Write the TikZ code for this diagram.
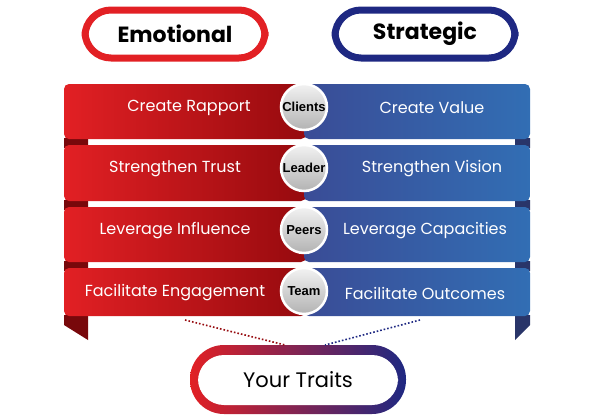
\documentclass[tikz,border=0pt]{standalone}
\usepackage{fontspec}
\setmainfont{Poppins}
\newfontfamily\boldsans{Liberation Sans}
\usetikzlibrary{positioning,shadings}
\definecolor{redA}{RGB}{226,32,36}
\definecolor{redB}{RGB}{150,10,14}
\definecolor{blueA}{RGB}{58,76,150}
\definecolor{blueB}{RGB}{50,110,180}
\definecolor{navy}{RGB}{30,40,130}
\tikzset{
  redband/.style={left color=redA, right color=redB, draw=none, rounded corners=5pt},
  blueband/.style={left color=blueA, right color=blueB, draw=none, rounded corners=5pt},
  bandtext/.style={text=white, font=\fontsize{16}{17}\selectfont},
  hub/.style={circle, minimum size=46pt, inner sep=0pt, draw=white, line width=2.5pt,
              top color=gray!10, bottom color=gray!60, font=\boldsans\bfseries\fontsize{13}{14}\selectfont},
  pill/.style={rounded corners=26pt, line width=7pt, fill=white, minimum width=180pt, minimum height=48pt,
               font=\bfseries\fontsize{22}{24}\selectfont},
}
\begin{document}
\begin{tikzpicture}[x=1pt,y=-1pt]
\useasboundingbox (0,0) rectangle (600,418);

% top labels
\node[pill, draw=redA] (emo) at (175,34) {Emotional};
\node[pill, draw=navy] (strat) at (425,34) {Strategic};

% bands
\foreach \yt/\yb/\tl in {82/143/153, 143/205/215, 205/266/276, 266/320/340}{
  \fill[redB!80!black] (64,\yb-5) -- (88,\yb-5) -- (88,\tl) -- (64,\yb+5) -- cycle;
  \fill[blueA!70!black] (530,\yb-5) -- (515,\yb-5) -- (515,\tl) -- (530,\yb+5) -- cycle;
  \path[redband] (64,\yt+2) rectangle (306,\yb-4);
  \path[blueband] (304,\yt+2) rectangle (530,\yb-4);
}

\node[bandtext] (l1) at (189,108) {Create Rapport};
\node[bandtext] (l2) at (175,169) {Strengthen Trust};
\node[bandtext] (l3) at (175,231) {Leverage Influence};
\node[bandtext] (l4) at (175,293) {Facilitate Engagement};
\node[bandtext] (r1) at (432,108) {Create Value};
\node[bandtext] (r2) at (432,169) {Strengthen Vision};
\node[bandtext] (r3) at (425,231) {Leverage Capacities};
\node[bandtext] (r4) at (425,293) {Facilitate Outcomes};

\node[hub] (clients) at (304,107) {Clients};
\node[hub] (leader) at (304,168) {Leader};
\node[hub] (peers) at (304,230) {Peers};
\node[hub] (team) at (304,291) {Team};

% bottom
\coordinate (dl) at (185,320);
\coordinate (dr) at (420,320);
\shade[left color=redA, right color=navy, rounded corners=34pt] (190,345) rectangle (406,414);
\node[fill=white, rounded corners=26pt, minimum width=200pt, minimum height=50pt,
      font=\fontsize{21}{22}\selectfont] (traits) at (298,380) {Your Traits};
\draw[redB, dotted, line width=1.6pt] (dl) -- (285,345);
\draw[navy, dotted, line width=1.6pt] (dr) -- (325,345);
\end{tikzpicture}
\end{document}
